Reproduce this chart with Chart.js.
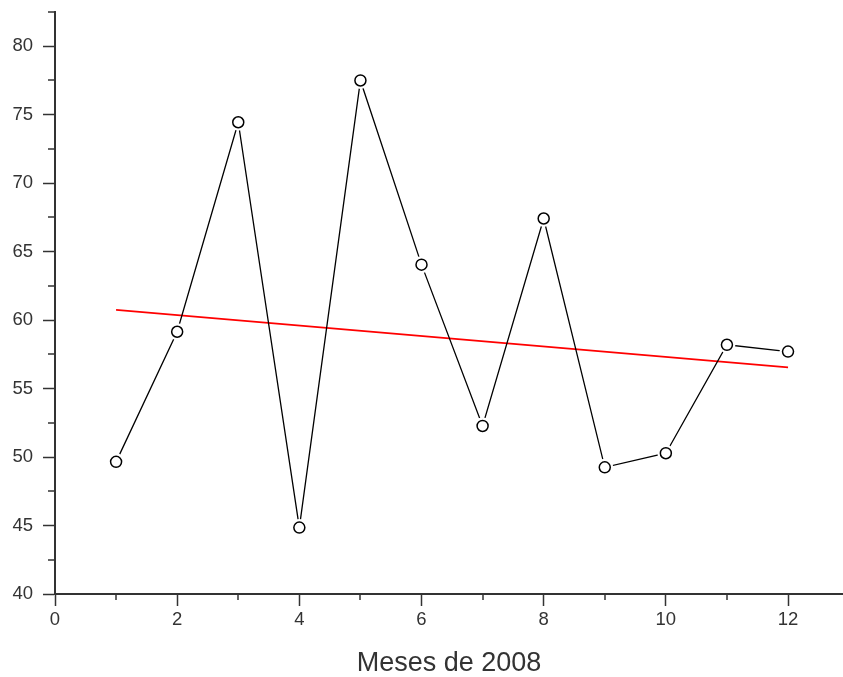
<!DOCTYPE html>
<html>
<head>
<meta charset="utf-8">
<script src="https://cdn.jsdelivr.net/npm/chart.js@4"></script>
<style>
  body { margin: 0; background: #fff; }
  #wrap { width: 843px; height: 677px; }
</style>
</head>
<body>
<div id="wrap"><canvas id="mesesChart" width="843" height="677"></canvas></div>
<script>
// ===== data =====
const meses = [1, 2, 3, 4, 5, 6, 7, 8, 9, 10, 11, 12];
const valores = [49.65, 59.15, 74.45, 44.85, 77.5, 64.05, 52.27, 67.42, 49.25, 50.28, 58.2, 57.7];
// red trend line, endpoints only
const tendenciaX = [1, 12];
const tendenciaY = [60.75, 56.55];

const toPts = (xs, ys) => xs.map((x, i) => ({ x: x, y: ys[i] }));

const axisColor = "#333333";
const labelFont = { family: "'Liberation Sans', Arial, sans-serif", size: 18.5 };

// short minor ticks between the labelled ones
const minorTicks = {
    id: "minorTicks",
    afterDraw(chart) {
        const ctx = chart.ctx;
        const xs = chart.scales.x, ys = chart.scales.y;
        const area = chart.chartArea;
        ctx.save();
        ctx.strokeStyle = axisColor;
        ctx.lineWidth = 1.5;
        ctx.beginPath();
        for (let v = xs.min + 1; v <= xs.max; v += 2) {
            const px = Math.round(xs.getPixelForValue(v));
            ctx.moveTo(px, area.bottom);
            ctx.lineTo(px, area.bottom + 6);
        }
        for (let v = ys.min + 2.5; v <= ys.max + 0.01; v += 5) {
            const py = Math.round(ys.getPixelForValue(v));
            ctx.moveTo(area.left - 7, py);
            ctx.lineTo(area.left, py);
        }
        ctx.stroke();
        ctx.restore();
    }
};

new Chart(document.getElementById("mesesChart"), {
    type: "line",
    data: {
        datasets: [
            {
                // hollow markers on top
                data: toPts(meses, valores),
                showLine: false,
                pointRadius: 5.5,
                pointBorderWidth: 1.5,
                pointBorderColor: "#000",
                pointBackgroundColor: "rgba(0,0,0,0)",
                order: 0
            },
            {
                // black line, white discs leave a gap round each marker
                data: toPts(meses, valores),
                borderColor: "#000",
                borderWidth: 1.3,
                pointRadius: 8.5,
                pointBorderWidth: 0,
                pointBackgroundColor: "#fff",
                pointBorderColor: "#fff",
                tension: 0,
                order: 1
            },
            {
                data: toPts(tendenciaX, tendenciaY),
                borderColor: "#ff0000",
                borderWidth: 1.6,
                pointRadius: 0,
                order: 2
            }
        ]
    },
    options: {
        responsive: false,
        animation: false,
        layout: { autoPadding: false, padding: { top: 12, right: 0, bottom: 0, left: 0 } },
        plugins: {
            legend: { display: false },
            tooltip: { enabled: false }
        },
        scales: {
            x: {
                type: "linear",
                min: 0,
                max: 12.9,
                border: { color: axisColor, width: 2 },
                grid: { drawOnChartArea: false, tickLength: 12, tickColor: axisColor, tickWidth: 1.5 },
                ticks: {
                    stepSize: 2,
                    includeBounds: false,
                    padding: 3,
                    color: "#333",
                    font: labelFont
                },
                title: {
                    display: true,
                    text: "Meses de 2008",
                    color: "#333",
                    padding: 0,
                    font: { family: "'Liberation Sans', Arial, sans-serif", size: 27, lineHeight: 1 }
                },
                afterFit(scale) { scale.height = 83; }
            },
            y: {
                min: 40,
                max: 82.5,
                border: { color: axisColor, width: 2 },
                grid: { drawOnChartArea: false, tickLength: 12, tickColor: axisColor, tickWidth: 1.5 },
                ticks: {
                    stepSize: 5,
                    includeBounds: false,
                    padding: 10,
                    color: "#333",
                    font: labelFont
                },
                afterFit(scale) {
                    scale.width = 55;
                    scale.paddingTop = 0;
                    scale.paddingBottom = 0;
                }
            }
        }
    },
    plugins: [minorTicks]
});
</script>
</body>
</html>
